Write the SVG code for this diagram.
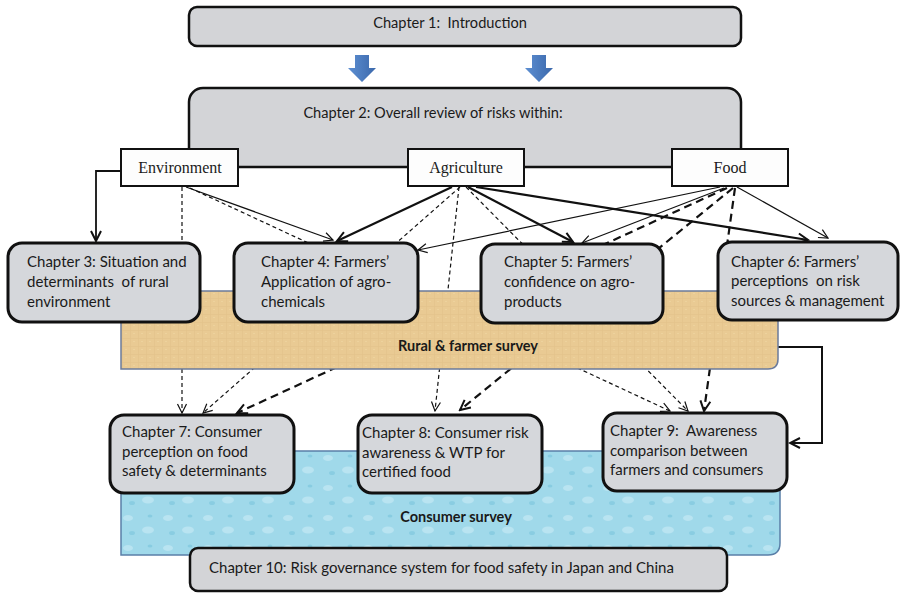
<svg xmlns="http://www.w3.org/2000/svg" width="901" height="593" viewBox="0 0 901 593">
<defs>
<style>
.ch{fill:#d5d7db;stroke:#111;stroke-width:3}
.top{fill:#d3d4d7;stroke:#111;stroke-width:2.5}
.lab{fill:#fdfdfd;stroke:#111;stroke-width:2}
.t{font-family:Lato,"Liberation Sans",sans-serif;font-size:15px;fill:#1a1a1a}
.ts{font-family:Lato,"Liberation Sans",sans-serif;font-size:14.6px;fill:#1a1a1a}
.tl{font-family:"Liberation Serif","Times New Roman",serif;font-size:16px;fill:#1a1a1a;text-anchor:middle}
.tb{font-family:Lato,"Liberation Sans",sans-serif;font-size:14.5px;font-weight:bold;fill:#1a1a1a;text-anchor:middle}
.c{fill:none;stroke:#111}
.s1{stroke-width:1.2;marker-end:url(#a1)}
.s2{stroke-width:2.2;marker-end:url(#a2)}
.d1{stroke-width:1.2;stroke-dasharray:4 3;marker-end:url(#a1)}
.d2{stroke-width:2.2;stroke-dasharray:8 5;marker-end:url(#a2)}
</style>
<marker id="a1" viewBox="-11 -6 12 12" refX="0" refY="0" markerWidth="12" markerHeight="12" markerUnits="userSpaceOnUse" orient="auto">
<path d="M-9,-4.5 L0,0 L-9,4.5" fill="none" stroke="#111" stroke-width="1.2" stroke-dasharray="none"/>
</marker>
<marker id="a2" viewBox="-12 -7 14 14" refX="0" refY="0" markerWidth="14" markerHeight="14" markerUnits="userSpaceOnUse" orient="auto">
<path d="M-10,-5 L0,0 L-10,5" fill="none" stroke="#111" stroke-width="2" stroke-dasharray="none"/>
</marker>
<linearGradient id="blue" x1="0" y1="0" x2="1" y2="0">
<stop offset="0" stop-color="#5d8fd2"/>
<stop offset="1" stop-color="#3b68ab"/>
</linearGradient>
<pattern id="tan" width="8" height="8" patternUnits="userSpaceOnUse">
<rect width="8" height="8" fill="#e9ca93"/>
<path d="M0,2.5 H8 M2.5,0 V8" stroke="#dcbb82" stroke-width="0.7" opacity="0.5"/>
<path d="M5,5.5 h2" stroke="#f0d7a5" stroke-width="0.8" opacity="0.7"/>
</pattern>
<pattern id="water" width="40" height="30" patternUnits="userSpaceOnUse">
<rect width="40" height="30" fill="#a0d9ea"/>
<ellipse cx="8" cy="8" rx="5" ry="3" fill="#c4e9f4" opacity="0.7"/>
<ellipse cx="28" cy="20" rx="6" ry="3.5" fill="#c4e9f4" opacity="0.7"/>
<ellipse cx="30" cy="6" rx="2.5" ry="1.6" fill="#82c9df" opacity="0.8"/>
<ellipse cx="12" cy="23" rx="3" ry="2" fill="#84cae0" opacity="0.8"/>
</pattern>
</defs>
<rect width="901" height="593" fill="#ffffff"/>

<g id="connectors">
<path class="c s2" style="stroke-width:1.8" d="M121,171 H96 V241"/>
<path class="c d1" d="M182,187 V413"/>
<path class="c s1" d="M186,187 L333,240"/>
<path class="c d1" d="M190,188 L670,411"/>
<path class="c s2" d="M452,187 L337,241"/>
<path class="c d1" d="M460,187 L203,413"/>
<path class="c d1" d="M459,187 L435,411"/>
<path class="c d1" d="M466,187 L688,411"/>
<path class="c s2" d="M468,187 L573,242"/>
<path class="c s2" d="M476,187 L808,240"/>
<path class="c s1" d="M720,187 L418,250"/>
<path class="c s1" d="M724,188 L582,243"/>
<path class="c d2" d="M727,188 L237,413"/>
<path class="c d2" d="M733,188 L460,410"/>
<path class="c d2" d="M735,188 L704,411"/>
<path class="c s1" d="M737,187 L828,238"/>
<path class="c s2" style="stroke-width:2" d="M778,347 H822 V443 H790"/>
</g>

<g id="rural-survey">
<path d="M121,291 H778 V359 Q778,369 768,369 H121 Z" fill="url(#tan)" stroke="#6b7b9b" stroke-width="1.5"/>
<text class="tb" x="468" y="351">Rural &amp; farmer survey</text>
</g>
<g id="consumer-survey">
<path d="M121,451 H780 V543 Q780,555 768,555 H121 Z" fill="url(#water)" stroke="#5a7fa8" stroke-width="1.5"/>
<text class="tb" x="456" y="522">Consumer survey</text>
</g>

<g id="ch1">
<rect class="top" x="189" y="7" width="552" height="39" rx="8"/>
<text class="ts" x="450" y="28" text-anchor="middle" xml:space="preserve">Chapter 1:  Introduction</text>
</g>
<g id="blue-arrows">
<polygon points="355,55 369,55 369,68 376,68 362,82 348,68 355,68" fill="url(#blue)"/>
<polygon points="532,55 546,55 546,68 553,68 539,82 525,68 532,68" fill="url(#blue)"/>
</g>
<g id="ch2">
<rect class="top" x="189" y="88" width="552" height="79" rx="14"/>
<text class="ts" x="433" y="118" text-anchor="middle">Chapter 2: Overall review of risks within:</text>
</g>
<g id="environment">
<rect class="lab" x="121" y="149" width="117" height="37"/>
<text class="tl" x="180" y="173">Environment</text>
</g>
<g id="agriculture">
<rect class="lab" x="408" y="149" width="116" height="37"/>
<text class="tl" x="466" y="173">Agriculture</text>
</g>
<g id="food">
<rect class="lab" x="672" y="149" width="116" height="37"/>
<text class="tl" x="730" y="173">Food</text>
</g>

<g id="ch3">
<rect class="ch" x="8" y="243" width="192" height="79" rx="14"/>
<text class="t" x="27" y="267">Chapter 3: Situation and</text>
<text class="t" x="27" y="287" xml:space="preserve">determinants  of rural</text>
<text class="t" x="27" y="307">environment</text>
</g>
<g id="ch4">
<rect class="ch" x="234" y="243" width="184" height="79" rx="14"/>
<text class="t" x="261" y="267">Chapter 4: Farmers’</text>
<text class="t" x="261" y="287">Application of agro-</text>
<text class="t" x="261" y="307">chemicals</text>
</g>
<g id="ch5">
<rect class="ch" x="481" y="244" width="182" height="79" rx="14"/>
<text class="t" x="504" y="267">Chapter 5: Farmers’</text>
<text class="t" x="504" y="287">confidence on agro-</text>
<text class="t" x="504" y="307">products</text>
</g>
<g id="ch6">
<rect class="ch" x="718" y="242" width="180" height="78" rx="14"/>
<text class="t" x="731" y="267">Chapter 6: Farmers’</text>
<text class="t" x="731" y="286" xml:space="preserve">perceptions  on risk</text>
<text class="t" x="731" y="306">sources &amp; management</text>
</g>
<g id="ch7">
<rect class="ch" x="110" y="415" width="184" height="78" rx="14"/>
<text class="t" x="122" y="437">Chapter 7: Consumer</text>
<text class="t" x="122" y="457">perception on food</text>
<text class="t" x="122" y="476">safety &amp; determinants</text>
</g>
<g id="ch8">
<rect class="ch" x="358" y="415" width="184" height="78" rx="14"/>
<text class="t" x="362" y="438">Chapter 8: Consumer risk</text>
<text class="t" x="362" y="458">awareness &amp; WTP for</text>
<text class="t" x="362" y="477">certified food</text>
</g>
<g id="ch9">
<rect class="ch" x="603" y="413" width="184" height="78" rx="14"/>
<text class="t" x="610" y="436" xml:space="preserve">Chapter 9:  Awareness</text>
<text class="t" x="610" y="456">comparison between</text>
<text class="t" x="610" y="475">farmers and consumers</text>
</g>
<g id="ch10">
<rect class="top" x="190" y="548" width="537" height="43" rx="8"/>
<text class="t" x="209" y="573">Chapter 10: Risk governance system for food safety in Japan and China</text>
</g>
</svg>
